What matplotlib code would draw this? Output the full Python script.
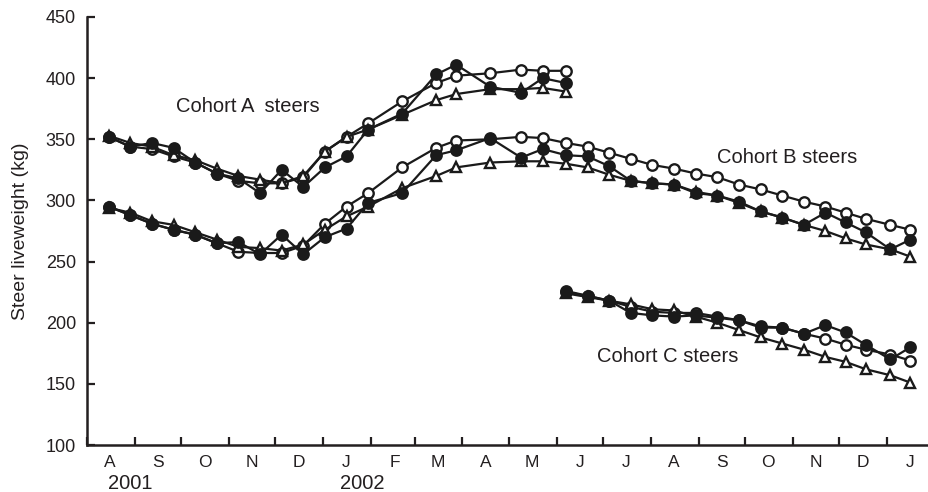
import numpy as np
import pandas as pd
import matplotlib
matplotlib.use('Agg')
import matplotlib.pyplot as plt
import matplotlib.dates as mdates
from matplotlib.ticker import FuncFormatter

# -- sampling dates (fortnightly weighings)
dates = pd.to_datetime([
    '2001-08-15', '2001-08-29', '2001-09-12', '2001-09-26', '2001-10-10',
    '2001-10-24', '2001-11-07', '2001-11-21', '2001-12-05', '2001-12-19',
    '2002-01-02', '2002-01-16', '2002-01-30', '2002-02-21', '2002-03-15',
    '2002-03-28', '2002-04-19', '2002-05-09', '2002-05-23', '2002-06-07',
    '2002-06-21', '2002-07-05', '2002-07-19', '2002-08-02', '2002-08-16',
    '2002-08-30', '2002-09-13', '2002-09-27', '2002-10-11', '2002-10-25',
    '2002-11-08', '2002-11-22', '2002-12-05', '2002-12-18', '2003-01-03',
    '2003-01-16'])

# -- cohort A (first 20 dates)
a_filled = [352, 344, 347, 343, 331, 322, 318, 306, 325, 311,
            327, 336, 358, 371, 403, 411, 393, 388, 400, 396]
a_open = [352, 344, 342, 336, 331, 322, 316, 314, 314, 319,
          340, 352, 363, 381, 396, 402, 404, 407, 406, 406]
a_tri = [353, 347, 344, 337, 333, 326, 320, 317, 314, 320,
         340, 352, 358, 370, 382, 387, 391, 391, 392, 389]

# -- cohort B (all 36 dates)
b_filled = [295, 288, 281, 276, 272, 265, 266, 256, 272, 256,
            270, 277, 298, 306, 337, 341, 351, 335, 342, 337,
            336, 328, 316, 314, 313, 306, 304, 299, 291, 286,
            280, 290, 282, 274, 260, 268]
b_open = [295, 288, 281, 276, 272, 265, 258, 257, 257, 263,
          281, 295, 306, 327, 343, 349, 350, 352, 351, 347,
          344, 339, 334, 329, 326, 322, 319, 313, 309, 304,
          299, 295, 290, 285, 280, 276]
b_tri = [294, 290, 283, 280, 274, 268, 262, 261, 259, 264,
         276, 287, 295, 310, 320, 327, 331, 332, 332, 330,
         327, 321, 316, 314, 313, 307, 304, 298, 291, 286,
         280, 275, 269, 264, 260, 254]

# -- cohort C (dates from index 19 on)
c_start = 19
c_filled = [226, 222, 218, 208, 206, 205, 206, 204, 202, 197,
            196, 191, 198, 192, 182, 170, 180]
c_open = [225, 222, 218, 213, 209, 208, 208, 205, 202, 196,
          196, 191, 187, 182, 178, 174, 169]
c_tri = [224, 221, 218, 215, 211, 210, 205, 200, 194, 188,
         183, 178, 172, 168, 162, 157, 151]

plt.rcParams['font.family'] = ['Liberation Sans', 'DejaVu Sans']

W, H = 929, 492
fig = plt.figure(figsize=(W / 100, H / 100), dpi=100)
ax = fig.add_axes([87 / W, 47 / H, 1 - 87 / W, 428 / H])

lw = 1.6
mk = dict(markersize=7.5, markeredgewidth=1.7, color='#1a1a1a')


def draw(x, filled, opened, tri):
    ax.plot(x, opened, '-o', markerfacecolor='white', lw=lw, zorder=3, **mk)
    ax.plot(x, tri, '-^', markerfacecolor='white', lw=lw, zorder=3, **mk)
    ax.plot(x, filled, '-o', markerfacecolor='#1a1a1a', lw=lw, zorder=4, **mk)


draw(dates[:len(a_filled)], a_filled, a_open, a_tri)
draw(dates, b_filled, b_open, b_tri)
draw(dates[c_start:c_start + len(c_filled)], c_filled, c_open, c_tri)

ax.text(pd.Timestamp('2001-11-13'), 377, 'Cohort A  steers', fontsize=14.5,
        ha='center', va='center', color='#231f20')
ax.text(pd.Timestamp('2002-10-28'), 335.5, 'Cohort B steers', fontsize=14.5,
        ha='center', va='center', color='#231f20')
ax.text(pd.Timestamp('2002-08-12'), 172, 'Cohort C steers', fontsize=14.5,
        ha='center', va='center', color='#231f20')

ax.set_ylim(100, 450)
ax.set_yticks(np.arange(100, 451, 50))
ax.set_xlim(pd.Timestamp('2001-08-01'), pd.Timestamp('2003-01-28'))

ax.xaxis.set_major_locator(mdates.MonthLocator())
ax.xaxis.set_major_formatter(FuncFormatter(lambda v, p: ''))
ax.xaxis.set_minor_locator(mdates.MonthLocator(bymonthday=16))
ax.xaxis.set_minor_formatter(
    FuncFormatter(lambda v, p: mdates.num2date(v).strftime('%b')[0]))

ax.tick_params(axis='both', which='major', direction='in', length=6,
               width=1.6, color='#231f20', labelsize=13, labelcolor='#231f20')
ax.tick_params(axis='x', which='minor', length=0, pad=7,
               labelsize=12.5, labelcolor='#231f20')
ax.tick_params(axis='y', pad=8)

for s in ['top', 'right']:
    ax.spines[s].set_visible(False)
for s in ['left', 'bottom']:
    ax.spines[s].set_linewidth(1.8)
    ax.spines[s].set_color('#231f20')

ax.set_ylabel('Steer liveweight (kg)', fontsize=14, color='#231f20', labelpad=12)

trans = ax.get_xaxis_transform()
ax.text(pd.Timestamp('2001-08-29'), -0.089, '2001', transform=trans,
        ha='center', va='center', fontsize=14.5, color='#231f20')
ax.text(pd.Timestamp('2002-01-26'), -0.089, '2002', transform=trans,
        ha='center', va='center', fontsize=14.5, color='#231f20')

fig.savefig('out.png', dpi=100)
